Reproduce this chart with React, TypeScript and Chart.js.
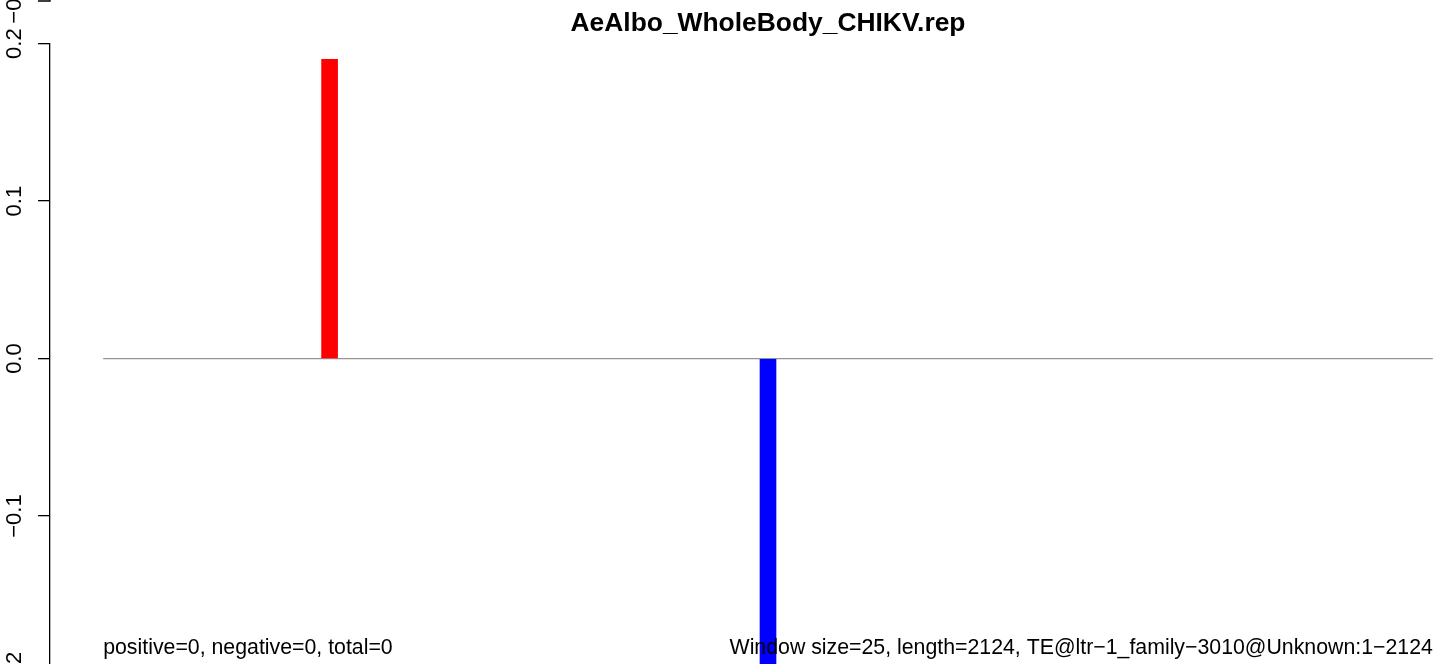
import React, { useEffect, useRef } from "react";
import { Chart, registerables } from "chart.js";

Chart.register(...registerables);

// ---- data ----
const chartTitle = "AeAlbo_WholeBody_CHIKV.rep";
const windowSize = 25;
const seqLength = 2124;
const windowStarts = [350, 1050];
const windowScores = [0.19, -0.2];
const barColors = ["#ff0000", "#0000ff"];
const yTickValues = [-0.2, -0.1, 0, 0.1, 0.2];
const leftNote = "positive=0, negative=0, total=0";
const rightNote = "Window size=25, length=2124, TE@ltr\u22121_family\u22123010@Unknown:1\u22122124";
const noteY = -0.184;
const prevPanelLabel = "\u22120.2";

const FONT = "'Liberation Sans', Arial, Helvetica, sans-serif";

const fmt = (v: number) => (v < 0 ? "\u2212" : "") + Math.abs(v).toFixed(1);

const notesPlugin = {
  id: "notes",
  afterDraw(chart: any) {
    const ctx = chart.ctx;
    const xs = chart.scales.x;
    const ys = chart.scales.y;
    ctx.save();
    ctx.fillStyle = "#000";
    ctx.font = `21.3px ${FONT}`;
    ctx.textBaseline = "middle";
    const py = ys.getPixelForValue(noteY);
    ctx.textAlign = "left";
    ctx.fillText(leftNote, xs.getPixelForValue(1), py);
    ctx.textAlign = "right";
    ctx.fillText(rightNote, xs.getPixelForValue(seqLength), py);

    // fragment of the panel above (its bottom tick and label)
    const ax = chart.chartArea.left;
    ctx.strokeStyle = "#000";
    ctx.lineWidth = 1.3;
    ctx.beginPath();
    ctx.moveTo(ax - 12, 1);
    ctx.lineTo(ax, 1);
    ctx.lineTo(ax, -5);
    ctx.stroke();
    ctx.translate(14.7, 2);
    ctx.rotate(-Math.PI / 2);
    ctx.font = `22px ${FONT}`;
    ctx.textAlign = "center";
    ctx.fillText(prevPanelLabel, 0, 0);
    ctx.restore();
  },
};

export default function App() {
  const ref = useRef<HTMLCanvasElement>(null);

  useEffect(() => {
    if (!ref.current) return;
    const span = seqLength - 1;
    const chart = new Chart(ref.current, {
      type: "bar",
      data: {
        datasets: [
          {
            type: "line",
            data: [
              { x: 1, y: 0 },
              { x: seqLength, y: 0 },
            ],
            borderColor: "#949494",
            borderWidth: 1.2,
            pointRadius: 0,
            order: 2,
          } as any,
          {
            type: "bar",
            data: windowStarts.map((s, i) => ({ x: s + windowSize / 2, y: windowScores[i] })),
            backgroundColor: barColors,
            borderWidth: 0,
            barThickness: 16,
            order: 1,
          } as any,
        ],
      },
      options: {
        animation: false,
        responsive: false,
        maintainAspectRatio: false,
        layout: { padding: { left: 0, right: 74, top: 0, bottom: 0 } },
        plugins: {
          legend: { display: false },
          tooltip: { enabled: false },
          title: {
            display: true,
            text: chartTitle,
            fullSize: false,
            color: "#000",
            font: { family: FONT, size: 26.4, weight: "bold" },
            padding: { top: 7.7, bottom: 4.3 },
          },
        },
        scales: {
          x: {
            type: "linear",
            display: false,
            offset: false,
            min: 1 - 0.04 * span,
            max: seqLength + 0.04 * span,
          },
          y: {
            type: "linear",
            min: -0.25,
            max: 0.2,
            afterBuildTicks: (s: any) => {
              s.ticks = yTickValues.map((v) => ({ value: v }));
            },
            afterFit: (s: any) => {
              s.width = 50;
            },
            grid: {
              drawOnChartArea: false,
              drawTicks: true,
              tickLength: 12,
              color: "#000",
              lineWidth: 1.3,
            },
            border: { display: true, color: "#000", width: 1.3 },
            ticks: {
              minRotation: 90,
              maxRotation: 90,
              crossAlign: "center",
              padding: 1.6,
              color: "#000",
              font: { family: FONT, size: 22 },
              callback: (v: any) => fmt(Number(v)),
            },
          },
        },
      },
      plugins: [notesPlugin],
    });
    return () => chart.destroy();
  }, []);

  return (
    <div
      style={{
        position: "fixed",
        left: 0,
        top: 0,
        width: 1433,
        height: 664,
        overflow: "hidden",
        background: "#fff",
      }}
    >
      <canvas ref={ref} width={1560} height={767} style={{ width: 1560, height: 767, display: "block" }} />
    </div>
  );
}
